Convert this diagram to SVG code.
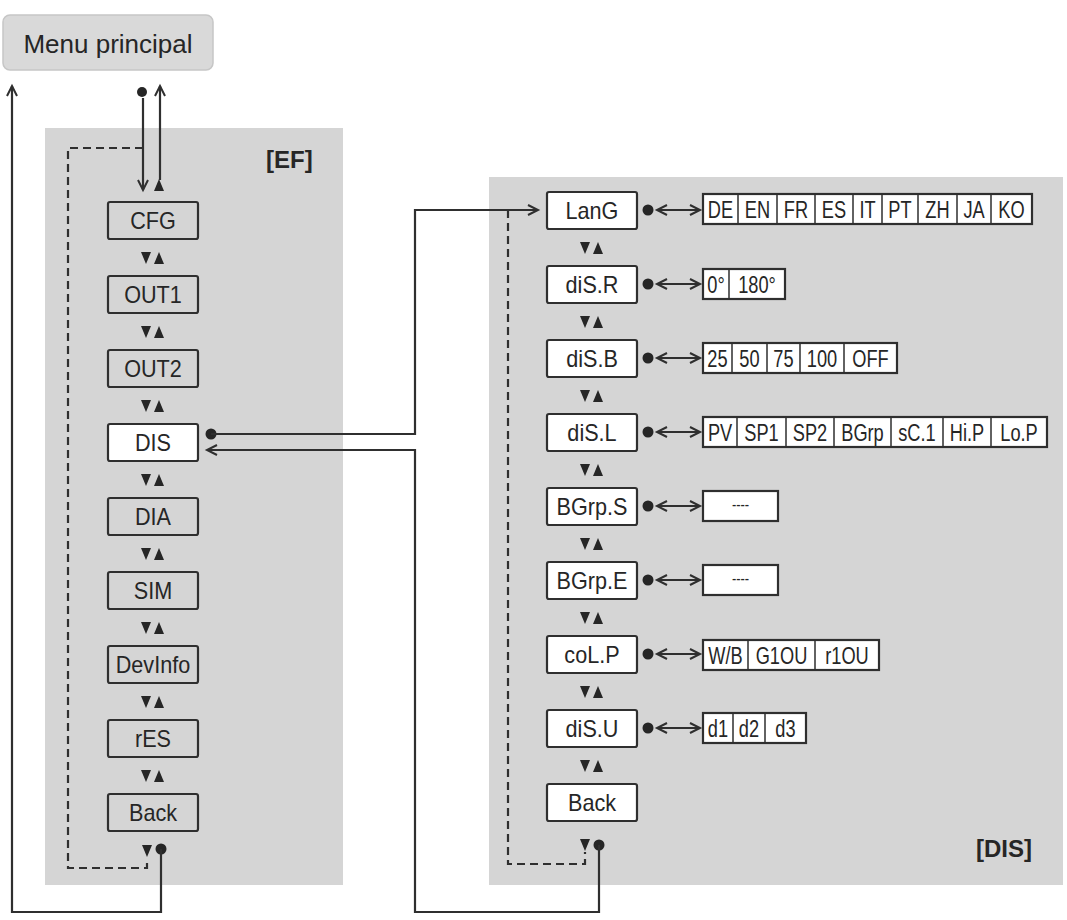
<svg xmlns="http://www.w3.org/2000/svg" xmlns:xlink="http://www.w3.org/1999/xlink" width="1067" height="920" viewBox="0 0 1067 920">
<style>
.panel{fill:#d5d5d5}
.box{stroke:#2f2f2f;stroke-width:2.2}
.g{fill:#d5d5d5}
.w{fill:#ffffff}
.lbl{font-family:"Liberation Sans",Arial,sans-serif;font-size:23px;fill:#262626;text-anchor:middle;transform-box:fill-box;transform-origin:center;transform:scaleX(0.94)}
.val{font-family:"Liberation Sans",Arial,sans-serif;font-size:24px;fill:#262626;text-anchor:middle;transform-box:fill-box;transform-origin:center;transform:scaleX(0.76)}
.vbox{fill:#ffffff;stroke:#2f2f2f;stroke-width:2.2}
.div{stroke:#2f2f2f;stroke-width:1.5}
.title{font-family:"Liberation Sans",Arial,sans-serif;font-size:24px;font-weight:bold;fill:#262626}
.con{fill:none;stroke:#2f2f2f;stroke-width:2.2}
.dash{fill:none;stroke:#2f2f2f;stroke-width:2.2;stroke-dasharray:8 5}
.dot{fill:#262626}
.tri{fill:#262626}
</style>
<defs>
<marker id="oa" markerUnits="userSpaceOnUse" markerWidth="14" markerHeight="14" refX="11" refY="6" orient="auto-start-reverse">
<path d="M1,1 L11,6 L1,11" fill="none" stroke="#2f2f2f" stroke-width="2"/>
</marker>
<path id="tdn" d="M-5,-6 L5,-6 L0,6 Z"/>
<path id="tup" d="M-5,6 L5,6 L0,-6 Z"/>
</defs>

<rect width="1067" height="920" fill="#ffffff"/>

<g id="menu-principal">
<rect x="3" y="15" width="210" height="55" rx="7" fill="#d9d9d9" stroke="#c6c6c6" stroke-width="1.5"/>
<text x="108" y="53" style="font-family:'Liberation Sans',Arial,sans-serif;font-size:26px;fill:#262626;text-anchor:middle">Menu principal</text>
</g>

<g id="panel-EF">
<rect class="panel" x="45" y="128" width="298" height="757"/>
<text class="title" x="266" y="168">[EF]</text>
</g>
<g id="panel-DIS">
<rect class="panel" x="489" y="177" width="574" height="708"/>
<text class="title" x="976" y="857">[DIS]</text>
</g>

<g id="connectors">
<path class="dash" d="M143,148 H68 V868 H147 V858"/>
<path class="dash" d="M508,210 V864 H585 V852"/>
<circle class="dot" cx="142" cy="92" r="5"/>
<path class="con" d="M143,98 V190" marker-end="url(#oa)"/>
<path class="con" d="M160,180 V86" marker-end="url(#oa)"/>
<circle class="dot" cx="161" cy="849" r="5.5"/>
<path class="con" d="M161,849 V912 H12 V86" marker-end="url(#oa)"/>
<circle class="dot" cx="211" cy="434" r="5.5"/>
<path class="con" d="M211,434 H415 V210 H538" marker-end="url(#oa)"/>
<circle class="dot" cx="599" cy="845" r="5.5"/>
<path class="con" d="M599,845 V912 H415 V450 H207" marker-end="url(#oa)"/>
<use href="#tup" class="tri" x="159" y="185"/>
<use href="#tdn" class="tri" x="147" y="851"/>
<use href="#tdn" class="tri" x="585" y="845"/>
<!-- EF nav triangles -->
<use href="#tdn" class="tri" x="146" y="258"/><use href="#tup" class="tri" x="159" y="258"/>
<use href="#tdn" class="tri" x="146" y="332"/><use href="#tup" class="tri" x="159" y="332"/>
<use href="#tdn" class="tri" x="146" y="406"/><use href="#tup" class="tri" x="159" y="406"/>
<use href="#tdn" class="tri" x="146" y="480"/><use href="#tup" class="tri" x="159" y="480"/>
<use href="#tdn" class="tri" x="146" y="554"/><use href="#tup" class="tri" x="159" y="554"/>
<use href="#tdn" class="tri" x="146" y="628"/><use href="#tup" class="tri" x="159" y="628"/>
<use href="#tdn" class="tri" x="146" y="702"/><use href="#tup" class="tri" x="159" y="702"/>
<use href="#tdn" class="tri" x="146" y="776"/><use href="#tup" class="tri" x="159" y="776"/>
<!-- DIS nav triangles -->
<use href="#tdn" class="tri" x="585" y="248"/><use href="#tup" class="tri" x="598" y="248"/>
<use href="#tdn" class="tri" x="585" y="322"/><use href="#tup" class="tri" x="598" y="322"/>
<use href="#tdn" class="tri" x="585" y="396"/><use href="#tup" class="tri" x="598" y="396"/>
<use href="#tdn" class="tri" x="585" y="470"/><use href="#tup" class="tri" x="598" y="470"/>
<use href="#tdn" class="tri" x="585" y="544"/><use href="#tup" class="tri" x="598" y="544"/>
<use href="#tdn" class="tri" x="585" y="618"/><use href="#tup" class="tri" x="598" y="618"/>
<use href="#tdn" class="tri" x="585" y="692"/><use href="#tup" class="tri" x="598" y="692"/>
<use href="#tdn" class="tri" x="585" y="766"/><use href="#tup" class="tri" x="598" y="766"/>
<!-- row selectors -->
<circle class="dot" cx="648" cy="210" r="5.5"/><path class="con" d="M657,210 H700" marker-start="url(#oa)" marker-end="url(#oa)"/>
<circle class="dot" cx="648" cy="284" r="5.5"/><path class="con" d="M657,284 H700" marker-start="url(#oa)" marker-end="url(#oa)"/>
<circle class="dot" cx="648" cy="358" r="5.5"/><path class="con" d="M657,358 H700" marker-start="url(#oa)" marker-end="url(#oa)"/>
<circle class="dot" cx="648" cy="432" r="5.5"/><path class="con" d="M657,432 H700" marker-start="url(#oa)" marker-end="url(#oa)"/>
<circle class="dot" cx="648" cy="506" r="5.5"/><path class="con" d="M657,506 H700" marker-start="url(#oa)" marker-end="url(#oa)"/>
<circle class="dot" cx="648" cy="580" r="5.5"/><path class="con" d="M657,580 H700" marker-start="url(#oa)" marker-end="url(#oa)"/>
<circle class="dot" cx="648" cy="654" r="5.5"/><path class="con" d="M657,654 H700" marker-start="url(#oa)" marker-end="url(#oa)"/>
<circle class="dot" cx="648" cy="728" r="5.5"/><path class="con" d="M657,728 H700" marker-start="url(#oa)" marker-end="url(#oa)"/>
</g>

<g id="ef-CFG"><rect class="box g" x="108" y="202" width="90" height="37" rx="2"/><text class="lbl" x="153" y="229">CFG</text></g>
<g id="ef-OUT1"><rect class="box g" x="108" y="276" width="90" height="37" rx="2"/><text class="lbl" x="153" y="303">OUT1</text></g>
<g id="ef-OUT2"><rect class="box g" x="108" y="350" width="90" height="37" rx="2"/><text class="lbl" x="153" y="377">OUT2</text></g>
<g id="ef-DIS"><rect class="box w" x="108" y="424" width="90" height="37" rx="2"/><text class="lbl" x="153" y="451">DIS</text></g>
<g id="ef-DIA"><rect class="box g" x="108" y="498" width="90" height="37" rx="2"/><text class="lbl" x="153" y="525">DIA</text></g>
<g id="ef-SIM"><rect class="box g" x="108" y="572" width="90" height="37" rx="2"/><text class="lbl" x="153" y="599">SIM</text></g>
<g id="ef-DevInfo"><rect class="box g" x="108" y="646" width="90" height="37" rx="2"/><text class="lbl" x="153" y="673">DevInfo</text></g>
<g id="ef-rES"><rect class="box g" x="108" y="720" width="90" height="37" rx="2"/><text class="lbl" x="153" y="747">rES</text></g>
<g id="ef-Back"><rect class="box g" x="108" y="794" width="90" height="37" rx="2"/><text class="lbl" x="153" y="821">Back</text></g>

<g id="dis-LanG"><rect class="box w" x="547" y="192" width="90" height="37" rx="2"/><text class="lbl" x="592" y="219">LanG</text></g>
<g id="dis-diS.R"><rect class="box w" x="547" y="266" width="90" height="37" rx="2"/><text class="lbl" x="592" y="293">diS.R</text></g>
<g id="dis-diS.B"><rect class="box w" x="547" y="340" width="90" height="37" rx="2"/><text class="lbl" x="592" y="367">diS.B</text></g>
<g id="dis-diS.L"><rect class="box w" x="547" y="414" width="90" height="37" rx="2"/><text class="lbl" x="592" y="441">diS.L</text></g>
<g id="dis-BGrp.S"><rect class="box w" x="547" y="488" width="90" height="37" rx="2"/><text class="lbl" x="592" y="515">BGrp.S</text></g>
<g id="dis-BGrp.E"><rect class="box w" x="547" y="562" width="90" height="37" rx="2"/><text class="lbl" x="592" y="589">BGrp.E</text></g>
<g id="dis-coL.P"><rect class="box w" x="547" y="636" width="90" height="37" rx="2"/><text class="lbl" x="592" y="663">coL.P</text></g>
<g id="dis-diS.U"><rect class="box w" x="547" y="710" width="90" height="37" rx="2"/><text class="lbl" x="592" y="737">diS.U</text></g>
<g id="dis-Back"><rect class="box w" x="547" y="784" width="90" height="37" rx="2"/><text class="lbl" x="592" y="811">Back</text></g>

<g id="val-LanG">
<rect class="vbox" x="703" y="194" width="329" height="30"/>
<path class="div" d="M738,194V224M777,194V224M815,194V224M853,194V224M882,194V224M918,194V224M957,194V224M991,194V224"/>
<text class="val" x="720.5" y="218">DE</text><text class="val" x="757.5" y="218">EN</text><text class="val" x="796" y="218">FR</text><text class="val" x="834" y="218">ES</text><text class="val" x="867.5" y="218">IT</text><text class="val" x="900" y="218">PT</text><text class="val" x="937.5" y="218">ZH</text><text class="val" x="974" y="218">JA</text><text class="val" x="1011.5" y="218">KO</text>
</g>
<g id="val-diS.R">
<rect class="vbox" x="703" y="269" width="82" height="30"/>
<path class="div" d="M729,269V299"/>
<text class="val" x="716" y="293">0°</text><text class="val" x="757" y="293">180°</text>
</g>
<g id="val-diS.B">
<rect class="vbox" x="703" y="343" width="194" height="30"/>
<path class="div" d="M732,343V373M767,343V373M800,343V373M844,343V373"/>
<text class="val" x="717.5" y="367">25</text><text class="val" x="749.5" y="367">50</text><text class="val" x="783.5" y="367">75</text><text class="val" x="822" y="367">100</text><text class="val" x="870.5" y="367">OFF</text>
</g>
<g id="val-diS.L">
<rect class="vbox" x="703" y="417" width="344" height="30"/>
<path class="div" d="M737,417V447M786,417V447M834,417V447M891,417V447M943,417V447M991,417V447"/>
<text class="val" x="720" y="441">PV</text><text class="val" x="761.5" y="441">SP1</text><text class="val" x="810" y="441">SP2</text><text class="val" x="862.5" y="441">BGrp</text><text class="val" x="917" y="441">sC.1</text><text class="val" x="967" y="441">Hi.P</text><text class="val" x="1019" y="441">Lo.P</text>
</g>
<g id="val-BGrp.S">
<rect class="vbox" x="703" y="491" width="75" height="30"/>
<text class="val" x="740.5" y="510" style="font-size:17px">----</text>
</g>
<g id="val-BGrp.E">
<rect class="vbox" x="703" y="565" width="75" height="30"/>
<text class="val" x="740.5" y="584" style="font-size:17px">----</text>
</g>
<g id="val-coL.P">
<rect class="vbox" x="703" y="640" width="176" height="30"/>
<path class="div" d="M748,640V670M815,640V670"/>
<text class="val" x="725.5" y="664">W/B</text><text class="val" x="781.5" y="664">G1OU</text><text class="val" x="847" y="664">r1OU</text>
</g>
<g id="val-diS.U">
<rect class="vbox" x="703" y="713" width="103" height="30"/>
<path class="div" d="M733,713V743M765,713V743"/>
<text class="val" x="718" y="737">d1</text><text class="val" x="749" y="737">d2</text><text class="val" x="785.5" y="737">d3</text>
</g>
</svg>
